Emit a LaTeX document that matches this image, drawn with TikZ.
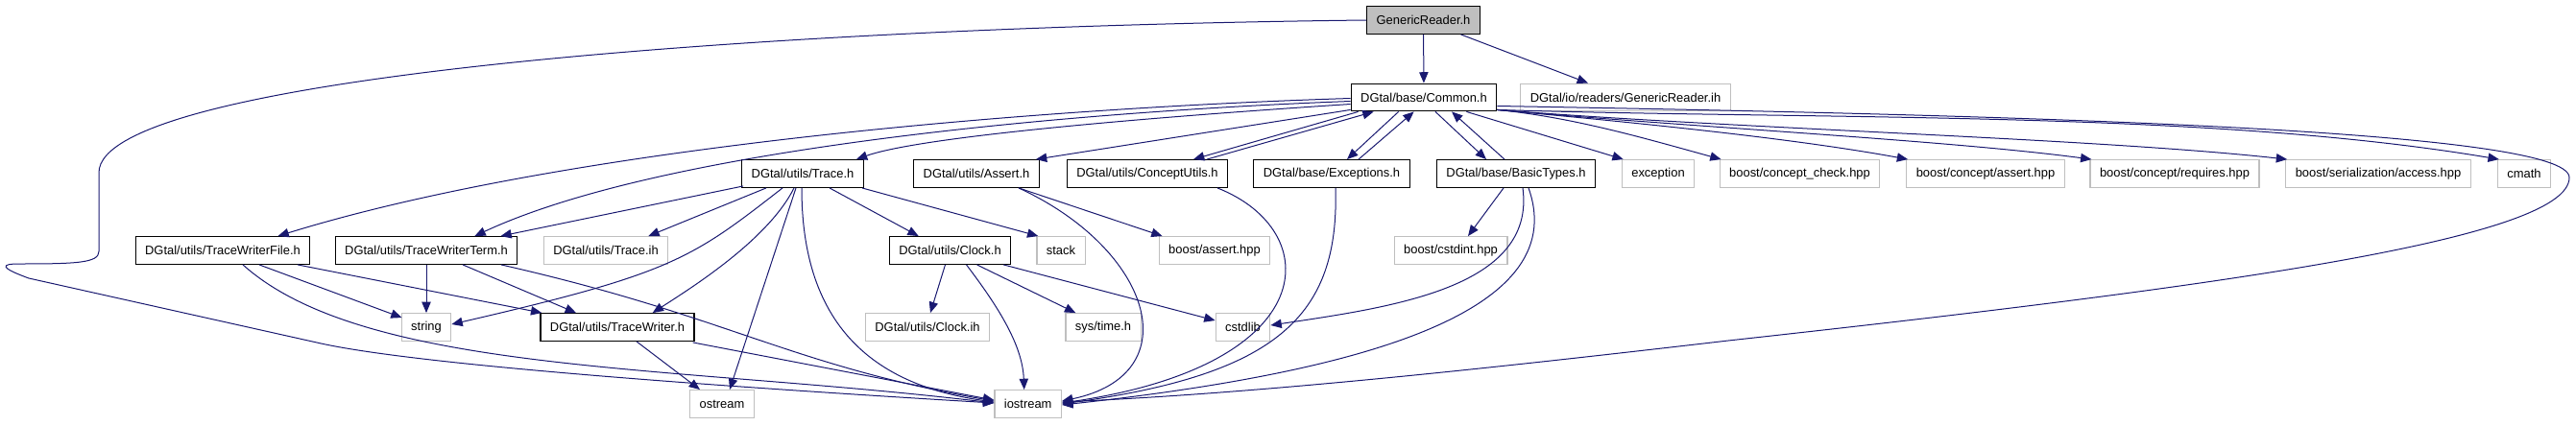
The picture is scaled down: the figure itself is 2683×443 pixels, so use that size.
\documentclass[tikz,border=0pt]{standalone}
\usepackage{fontspec}
\setmainfont{Liberation Sans}
\usepackage{tikz}
\usetikzlibrary{arrows.meta, calc}
\definecolor{edgecolor}{RGB}{25,25,112}
\definecolor{extcolor}{RGB}{191,191,191}

\begin{document}
\begin{tikzpicture}[
    x=0.75pt, y=-0.75pt,
    box/.style={rectangle, draw=black, line width=0.9pt, fill=white, minimum height=21.5pt, inner xsep=7.5pt, inner ysep=2pt, font=\fontsize{9.7}{11}\selectfont},
    extbox/.style={box, draw=extcolor},
    curbox/.style={box, fill=extcolor},
    arrow/.style={-{Triangle[length=8.5pt, width=7pt]}, line width=0.75pt, draw=edgecolor}
]
\useasboundingbox (0,0) rectangle (2683,443);

\node[curbox] (reader) at (1482.5,21) {GenericReader.h};
\node[box] (common) at (1483,101.5) {DGtal/base/Common.h};
\node[extbox] (readerih) at (1693,101.5) {DGtal/io/readers/GenericReader.ih};
\node[box] (trace) at (836,181) {DGtal/utils/Trace.h};
\node[box] (assert) at (1017,181) {DGtal/utils/Assert.h};
\node[box] (concept) at (1195,181) {DGtal/utils/ConceptUtils.h};
\node[box] (except) at (1387,181) {DGtal/base/Exceptions.h};
\node[box] (basic) at (1579,181) {DGtal/base/BasicTypes.h};
\node[extbox] (exception) at (1727,181) {exception};
\node[extbox] (ccheck) at (1874.5,181) {boost/concept\_check.hpp};
\node[extbox] (cassert) at (2068,181) {boost/concept/assert.hpp};
\node[extbox] (crequires) at (2265,181) {boost/concept/requires.hpp};
\node[extbox] (saccess) at (2477,181) {boost/serialization/access.hpp};
\node[extbox] (cmath) at (2629,181) {cmath};
\node[box] (twfile) at (232,261) {DGtal/utils/TraceWriterFile.h};
\node[box] (twterm) at (444,261) {DGtal/utils/TraceWriterTerm.h};
\node[extbox] (traceih) at (631,261) {DGtal/utils/Trace.ih};
\node[box] (clock) at (989.5,261) {DGtal/utils/Clock.h};
\node[extbox] (stack) at (1105,261) {stack};
\node[extbox] (bassert) at (1265,261) {boost/assert.hpp};
\node[extbox] (cstdint) at (1511,261) {boost/cstdint.hpp};
\node[extbox] (string) at (444,341) {string};
\node[box] (tw) at (643,341) {DGtal/utils/TraceWriter.h};
\node[extbox] (clockih) at (966,341) {DGtal/utils/Clock.ih};
\node[extbox] (systime) at (1149,341) {sys/time.h};
\node[extbox] (cstdlib) at (1294.5,341) {cstdlib};
\node[extbox] (ostream) at (752,421) {ostream};
\node[extbox] (iostream) at (1070.7,421) {iostream};

\draw[arrow] (reader) -- (common);
\draw[arrow] (reader) -- (readerih);
\draw[arrow] (reader.west) .. controls (800,28) and (103,80) .. (103,180) -- (103,262)
    .. controls (103,274) and (80,275) .. (20,275) .. controls (0,275) and (0,279) .. (30,290)
    -- (330,357) .. controls (420,378) and (700,400) .. ($(iostream.west)+(0,-1)$);

\draw[arrow] ($(common.west)+(0,1)$) .. controls (1100,112) and (600,150) .. ($(twfile.north east)+(-34,0)$);
\draw[arrow] ($(common.west)+(0,4)$) .. controls (1150,115) and (700,150) .. ($(twterm.north east)+(-45,0)$);
\draw[arrow] ($(common.west)+(0,7)$) .. controls (1200,122) and (960,142) .. ($(trace.north east)+(-8,0)$);
\draw[arrow] ($(common.south west)+(0,-2)$) -- ($(assert.north east)+(-4,0)$);
\draw[arrow] ($(common.south west)+(8,0)$) -- ($(concept.north)+(48,0)$);
\draw[arrow] ($(concept.north)+(62,0)$) -- ($(common.south west)+(24,0)$);
\draw[arrow] ($(common.south west)+(50,0)$) -- ($(except.north)+(16,0)$);
\draw[arrow] ($(except.north)+(28,0)$) -- ($(common.south west)+(66,0)$);
\draw[arrow] ($(common.south)+(12,0)$) -- ($(basic.north)+(-31,0)$);
\draw[arrow] ($(basic.north)+(-12,0)$) -- ($(common.south)+(29,0)$);
\draw[arrow] ($(common.south east)+(-32,0)$) -- ($(exception.north west)+(2,0)$);
\draw[arrow] ($(common.south east)+(0,-2)$) .. controls +(80,8) and +(-80,-22) .. ($(ccheck.north west)+(2,0)$);
\draw[arrow] ($(common.south east)+(0,-2)$) .. controls +(150,14) and +(-120,-22) .. ($(cassert.north west)+(2,0)$);
\draw[arrow] ($(common.south east)+(0,-2)$) .. controls +(200,18) and +(-150,-20) .. ($(crequires.north west)+(2,0)$);
\draw[arrow] ($(common.south east)+(0,-2)$) .. controls +(250,20) and +(-200,-22) .. ($(saccess.north west)+(2,0)$);
\draw[arrow] ($(common.south east)+(0,-2)$) .. controls (1900,125) and (2300,115) .. ($(cmath.north west)+(2,0)$);
\draw[arrow] ($(common.east)+(0,9)$) .. controls (2100,120) and (2676,135) .. (2676,185)
    .. controls (2676,250) and (2300,300) .. (1800,355) .. controls (1500,390) and (1300,410) .. ($(iostream.east)+(0,-2)$);

\draw[arrow] ($(trace.south west)+(2,-2)$) -- ($(twterm.north east)+(-18,0)$);
\draw[arrow] ($(trace.south)+(-38,0)$) -- ($(traceih.north east)+(-21,0)$);
\draw[arrow] ($(trace.south)+(-21,0)$) .. controls (720,270) and (700,285) .. ($(string.east)+(0,-3)$);
\draw[arrow] ($(trace.south)+(-9,0)$) .. controls (800,250) and (720,300) .. ($(tw.north east)+(-44,0)$);
\draw[arrow] ($(trace.south)+(-7,0)$) -- ($(ostream.north)+(8,0)$);
\draw[arrow] ($(trace.south)+(-1,0)$) .. controls (835,330) and (900,400) .. ($(iostream.west)+(0,-2)$);
\draw[arrow] ($(trace.south)+(28,0)$) -- ($(clock.north west)+(31,0)$);
\draw[arrow] ($(trace.south east)+(-2,0)$) -- ($(stack.north west)+(2,0)$);

\draw[arrow] ($(twfile.south)+(38,0)$) -- ($(string.north west)+(1,5)$);
\draw[arrow] ($(twfile.south)+(78,0)$) -- ($(tw.north west)+(2,0)$);
\draw[arrow] ($(twfile.south)+(21,0)$) .. controls (380,390) and (700,380) .. ($(iostream.west)+(0,-1)$);

\draw[arrow] (twterm) -- (string);
\draw[arrow] ($(twterm.south)+(38,0)$) -- ($(tw.north)+(-43,0)$);
\draw[arrow] ($(twterm.south)+(78,0)$) .. controls (760,330) and (820,380) .. ($(iostream.west)+(0,-3)$);

\draw[arrow] ($(tw.south)+(20,0)$) -- ($(ostream.north)+(-23,0)$);
\draw[arrow] ($(tw.south east)+(-2,1)$) -- ($(iostream.west)+(0,-4)$);

\draw[arrow] ($(assert.south)+(44,0)$) -- ($(bassert.north west)+(4,0)$);
\draw[arrow] ($(assert.south)+(44,0)$) .. controls (1200,260) and (1240,390) .. ($(iostream.east)+(0,-3)$);
\draw[arrow] ($(concept.south)+(73,0)$) .. controls (1380,240) and (1380,380) .. ($(iostream.east)+(0,-1)$);
\draw[arrow] ($(except.south)+(4,0)$) .. controls (1395,330) and (1330,390) .. (iostream.east);
\draw[arrow] ($(basic.south)+(-13,0)$) -- ($(cstdint.north)+(18,0)$);
\draw[arrow] ($(basic.south)+(7,0)$) .. controls (1600,300) and (1450,320) .. ($(cstdlib.east)+(0,-2)$);
\draw[arrow] ($(basic.south)+(13,0)$) .. controls (1640,330) and (1400,390) .. ($(iostream.east)+(0,1)$);

\draw[arrow] ($(clock.south)+(-5,0)$) -- ($(clockih.north)+(3,0)$);
\draw[arrow] ($(clock.south)+(17,0)$) .. controls (1040,320) and (1065,360) .. ($(iostream.north)+(-4,0)$);
\draw[arrow] ($(clock.south)+(28,0)$) -- ($(systime.north west)+(11,0)$);
\draw[arrow] ($(clock.south east)+(-8,0)$) -- ($(cstdlib.west)+(0,-7)$);
\end{tikzpicture}
\end{document}
